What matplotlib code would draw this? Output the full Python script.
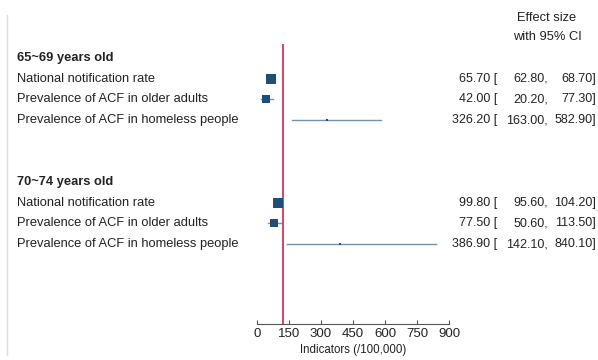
import matplotlib.pyplot as plt

plt.rcParams['font.family'] = ['Liberation Sans', 'DejaVu Sans']

groups = ['65~69 years old', '70~74 years old']
indicators = ['National notification rate',
              'Prevalence of ACF in older adults',
              'Prevalence of ACF in homeless people']
est = [[65.70, 42.00, 326.20], [99.80, 77.50, 386.90]]
lo = [[62.80, 20.20, 163.00], [95.60, 50.60, 142.10]]
hi = [[68.70, 77.30, 582.90], [104.20, 113.50, 840.10]]
# relative marker weight (square size)
weight = [[7.0, 5.5, 2.0], [7.0, 5.5, 2.0]]
ref_line = 120
xticks = [0, 150, 300, 450, 600, 750, 900]

W, H = 598, 360
fig = plt.figure(figsize=(W / 100, H / 100), dpi=100)

ax_l, ax_r, ax_t, ax_b = 257, 449, 44, 324
ax = fig.add_axes([ax_l / W, 1 - ax_b / H, (ax_r - ax_l) / W, (ax_b - ax_t) / H])
ax.set_xlim(0, 900)
row_h = 20.67
ax.set_ylim((ax_b - 58) / row_h, (ax_t - 58) / row_h)

navy = '#1f4e79'
ci_col = '#7391a8'
txt = '#222222'
fs = 9.3
fs_num = 9.0

def fig_y(row):
    # row -> figure fraction
    px = 58 + row * row_h
    return 1 - px / H

row = 0
for g in range(len(groups)):
    fig.text(17 / W, fig_y(row), groups[g], fontsize=fs, fontweight='bold',
             va='center', ha='left', color=txt)
    for i in range(len(indicators)):
        r = row + 1 + i
        fig.text(17 / W, fig_y(r), indicators[i], fontsize=fs, va='center', ha='left', color=txt)
        ax.plot([lo[g][i], hi[g][i]], [r, r], color=ci_col, lw=1.0, zorder=2)
        ax.plot(est[g][i], r, marker='s', ms=weight[g][i], color=navy, mew=0, zorder=3)
        fig.text(497 / W, fig_y(r), f'{est[g][i]:.2f} [', fontsize=fs_num, va='center', ha='right', color=txt)
        fig.text(548 / W, fig_y(r), f'{lo[g][i]:.2f},', fontsize=fs_num, va='center', ha='right', color=txt)
        fig.text(596 / W, fig_y(r), f'{hi[g][i]:.2f}]', fontsize=fs_num, va='center', ha='right', color=txt)
    row += 6

ax.axvline(ref_line, color='#d04a72', lw=1.5, zorder=1)

fig.text(547 / W, 1 - 18 / H, 'Effect size', fontsize=fs, ha='center', va='center', color=txt)
fig.text(547 / W, 1 - 37 / H, 'with 95% CI', fontsize=fs, ha='center', va='center', color=txt)

for s in ['top', 'right', 'left']:
    ax.spines[s].set_visible(False)
ax.spines['bottom'].set_color('#555555')
ax.set_yticks([])
ax.set_xticks(xticks)
ax.tick_params(axis='x', labelsize=9.5, length=3, direction='in', color='#555555',
               pad=3, labelcolor=txt)
ax.set_xlabel('Indicators (/100,000)', fontsize=8.3, labelpad=3, color=txt)

# faint frame line at the left edge
fig.add_artist(plt.Line2D([7 / W, 7 / W], [1 - 355 / H, 1 - 15 / H],
                          color='#dddddd', lw=1, transform=fig.transFigure))

fig.savefig('out.png', dpi=100)
